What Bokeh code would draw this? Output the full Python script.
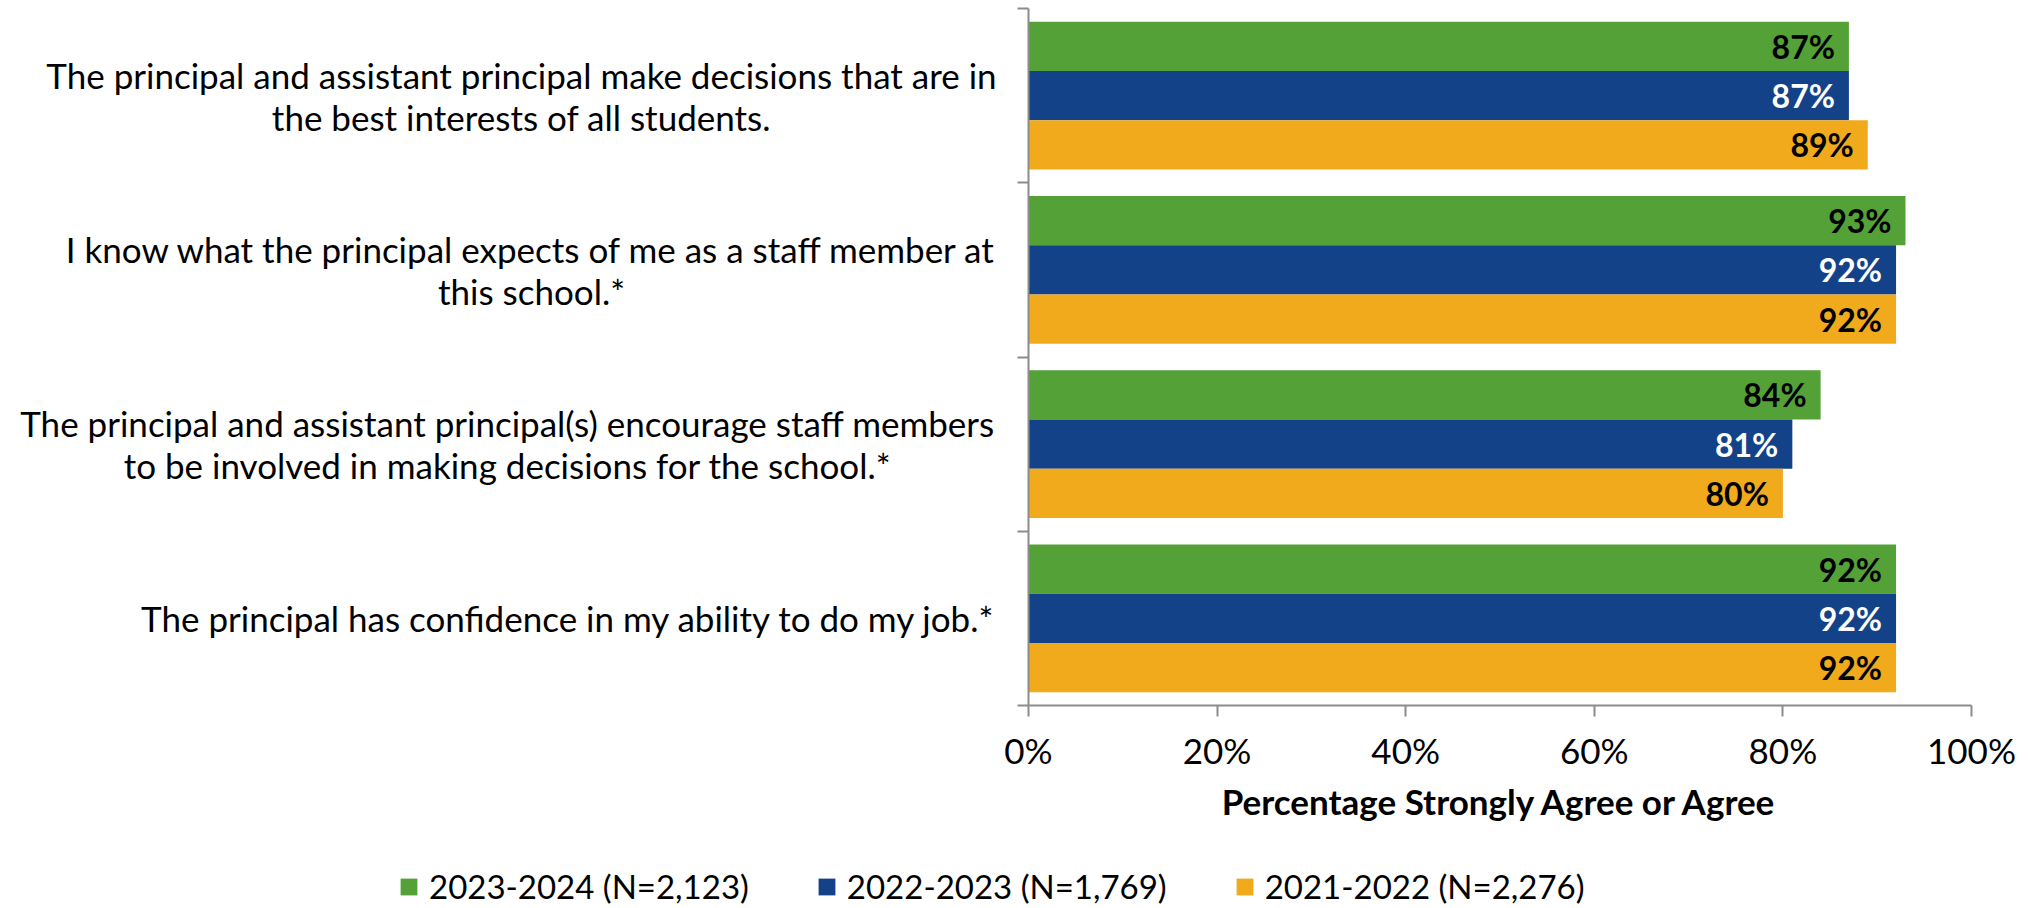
from bokeh.plotting import figure
from bokeh.layouts import column, row
from bokeh.models import (ColumnDataSource, Range1d, FixedTicker,
                          PrintfTickFormatter, Legend, LegendItem)
from bokeh.transform import dodge
from bokeh.core.properties import value
from bokeh.embed import file_html
from bokeh.resources import INLINE

# ---- data ----
categories = [
    "The principal and assistant principal make decisions that are in\nthe best interests of all students.",
    "I know what the principal expects of me as a staff member at\nthis school.*",
    "The principal and assistant principal(s) encourage staff members\nto be involved in making decisions for the school.*",
    "The principal has confidence in my ability to do my job.*",
]
series_names = ["2023-2024 (N=2,123)", "2022-2023 (N=1,769)", "2021-2022 (N=2,276)"]
values_2023_2024 = [87, 93, 84, 92]
values_2022_2023 = [87, 92, 81, 92]
values_2021_2022 = [89, 92, 80, 92]
x_ticks = [0, 20, 40, 60, 80, 100]

series_values = [values_2023_2024, values_2022_2023, values_2021_2022]
colors = ["#54A138", "#144289", "#F0AA1C"]
label_colors = ["#000000", "#FFFFFF", "#000000"]
offsets = [0.283, 0.0, -0.283]
bar_h = 0.283

FONT = "Lato"
AX = "#8C8C8C"
W, H = 2030, 908
LEFT_W = 1000        # width of the label panel
TOP_H = 840          # height of label panel + chart
FR_TOP, FR_BOT = 8, 135

n = len(categories)
slot = [n - 1 - i + 0.5 for i in range(n)]   # first category at the top
yr = Range1d(0, n)

# ---------- main chart ----------
p = figure(width=W - LEFT_W, height=TOP_H, output_backend="svg", toolbar_location=None,
           y_range=yr, x_range=Range1d(0, 100),
           min_border_left=28, min_border_right=59, min_border_top=FR_TOP, min_border_bottom=FR_BOT)
p.outline_line_color = None
p.xgrid.visible = False
p.ygrid.visible = False

yax = p.yaxis[0]
yax.ticker = FixedTicker(ticks=list(range(n + 1)))
yax.major_label_overrides = {i: "" for i in range(n + 1)}
yax.major_label_standoff = 0
yax.major_tick_out = 11
yax.major_tick_in = 0
yax.minor_tick_line_color = None
yax.axis_line_color = AX
yax.axis_line_width = 2
yax.major_tick_line_color = AX
yax.major_tick_line_width = 2

xax = p.xaxis[0]
xax.ticker = FixedTicker(ticks=x_ticks)
xax.formatter = PrintfTickFormatter(format="%d%%")
xax.major_tick_out = 11
xax.major_tick_in = 0
xax.minor_tick_line_color = None
xax.axis_line_color = AX
xax.axis_line_width = 2
xax.major_tick_line_color = AX
xax.major_tick_line_width = 2
xax.major_label_text_font = FONT
xax.major_label_text_font_size = "35px"
xax.major_label_text_color = "#000000"
xax.major_label_standoff = 12
xax.axis_label = "Percentage Strongly Agree or Agree"
xax.axis_label_text_font = FONT
xax.axis_label_text_font_style = "bold"
xax.axis_label_text_font_size = "35px"
xax.axis_label_text_color = "#000000"
xax.axis_label_standoff = 6

sources = []
for name, vals, col, lcol, off in zip(series_names, series_values, colors, label_colors, offsets):
    src = ColumnDataSource(dict(cat=categories, yc=slot, v=vals, lbl=[f"{v}%" for v in vals]))
    p.hbar(y=dodge("yc", off), right="v", left=0, height=bar_h,
           source=src, fill_color=col, line_color=None)
    p.text(x="v", y=dodge("yc", off), text="lbl", source=src,
           text_font=value(FONT), text_font_style="bold", text_font_size="32px",
           text_color=lcol, text_align="right", text_baseline="middle", x_offset=-14)
    sources.append(src)

# ---------- category label panel (shares the y range) ----------
label_cx = [521, 531, 507, 568]   # horizontal centre of each text block, in panel pixels
lp = figure(width=LEFT_W, height=TOP_H, output_backend="svg", toolbar_location=None,
            y_range=yr, x_range=Range1d(0, LEFT_W), x_axis_location=None, y_axis_location=None,
            min_border_left=0, min_border_right=0, min_border_top=FR_TOP, min_border_bottom=FR_BOT)
lp.outline_line_color = None
lp.xgrid.visible = False
lp.ygrid.visible = False
lsrc = ColumnDataSource(dict(cat=categories, yc=slot, cx=label_cx))
lp.text(x="cx", y="yc", text="cat", source=lsrc, text_font=value(FONT), text_font_size="35px",
        text_color="#000000", text_align="center", text_baseline="middle", text_line_height=1.0)

# ---------- legend strip ----------
g = figure(width=W, height=H - TOP_H, output_backend="svg", toolbar_location=None,
           x_range=Range1d(0, 100), y_range=Range1d(0, n), x_axis_location=None, y_axis_location=None,
           min_border=0)
g.outline_line_color = None
g.xgrid.visible = False
g.ygrid.visible = False
items = []
for name, col, src in zip(series_names, colors, sources):
    gr = g.hbar(y="yc", right="v", left=0, height=bar_h, source=src,
                fill_color=col, line_color=None, visible=False)
    items.append(LegendItem(label=name, renderers=[gr]))
legend = Legend(items=items, orientation="horizontal", location=(398, 2),
                label_text_font=FONT, label_text_font_size="33px", label_text_color="#000000",
                glyph_width=21, glyph_height=21, label_standoff=10, spacing=67,
                padding=0, margin=0, border_line_color=None, background_fill_alpha=0,
                inactive_fill_alpha=0)
g.add_layout(legend, "center")

layout = column(row(lp, p), g)
open("out.html", "w").write(file_html(layout, INLINE))
